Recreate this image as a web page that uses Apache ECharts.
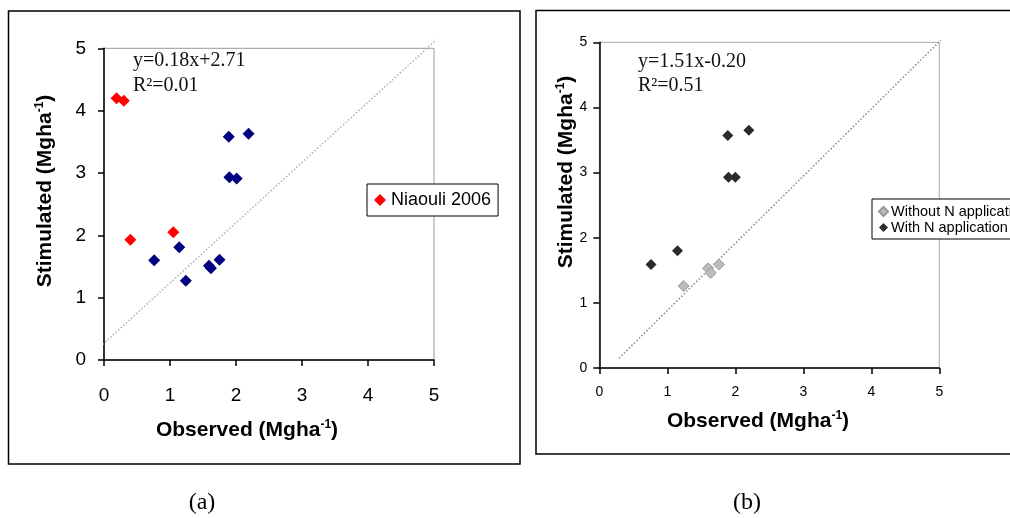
<!DOCTYPE html>
<html>
<head>
<meta charset="utf-8">
<style>
  html, body { margin: 0; padding: 0; background: #fff; }
  #chart { width: 1010px; height: 518px; }
</style>
<script src="https://cdn.jsdelivr.net/npm/echarts@6/dist/echarts.min.js"></script>
</head>
<body>
<div id="chart"></div>
<script>
// Panel (a): observed vs simulated yield, two site groups
const blueObsA = [0.76, 1.14, 1.24, 1.59, 1.62, 1.75, 1.89, 2.19, 1.90, 2.01];
const blueSimA = [1.60, 1.81, 1.27, 1.51, 1.47, 1.61, 3.58, 3.63, 2.93, 2.91];
const niaouliObs = [0.19, 0.30, 0.40, 1.05];
const niaouliSim = [4.20, 4.16, 1.93, 2.05];
const refLineA = [[-0.06, 0.21], [5.05, 5.15]];

// Panel (b): with / without nitrogen application
const withoutNObs = [1.24, 1.60, 1.64, 1.76];
const withoutNSim = [1.26, 1.53, 1.46, 1.59];
const withNObs = [0.76, 1.15, 1.89, 2.20, 1.90, 2.00];
const withNSim = [1.59, 1.80, 3.57, 3.65, 2.93, 2.93];
const refLineB = [[0.29, 0.15], [5.02, 5.03]];

const axisTicks = [0, 1, 2, 3, 4, 5];
const eqA = ['y=0.18x+2.71', 'R²=0.01'];
const eqB = ['y=1.51x-0.20', 'R²=0.51'];
const xTitle = 'Observed (Mgha{sup|-1})';
const yTitle = 'Stimulated (Mgha{sup|-1})';

const zip = (xs, ys) => xs.map((x, i) => [x, ys[i]]);

const chart = echarts.init(document.getElementById('chart'), null, { renderer: 'canvas' });

function valueAxis(gridIndex, fontSize, margin) {
  return {
    type: 'value',
    gridIndex,
    min: axisTicks[0],
    max: axisTicks[axisTicks.length - 1],
    interval: 1,
    splitLine: { show: false },
    axisLine: { show: true, onZero: false, lineStyle: { color: '#000', width: 1.5 } },
    axisTick: { show: true, inside: false, length: 6, lineStyle: { color: '#000', width: 1.5 } },
    axisLabel: { fontFamily: 'Liberation Sans', fontSize, color: '#000', margin }
  };
}

const titleRich = {
  sup: { font: 'bold 12px "Liberation Sans"', verticalAlign: 'top', padding: [0, 0, 11, 0] }
};

function axisTitle(text, x, y, rotation) {
  return {
    type: 'text',
    x, y, rotation,
    style: {
      text,
      font: 'bold 21px "Liberation Sans"',
      fill: '#000',
      align: 'center',
      verticalAlign: 'middle',
      rich: titleRich
    }
  };
}

function eqText(x, y, text) {
  return {
    type: 'text', x, y,
    style: { text, font: '20px "Liberation Serif"', fill: '#111', align: 'left', verticalAlign: 'middle' }
  };
}

function caption(x, y, text) {
  return {
    type: 'text', x, y,
    style: { text, font: '24px "Liberation Serif"', fill: '#000', align: 'center', verticalAlign: 'middle' }
  };
}

const option = {
  backgroundColor: '#fff',
  animation: false,
  grid: [
    { left: 104, top: 48.3, width: 330, height: 311.7, show: true, borderColor: '#999', borderWidth: 1, backgroundColor: 'transparent' },
    { left: 599.3, top: 42.3, width: 340, height: 325.7, show: true, borderColor: '#aaa', borderWidth: 1, backgroundColor: 'transparent' }
  ],
  xAxis: [valueAxis(0, 19, 26), valueAxis(1, 14, 17)],
  yAxis: [valueAxis(0, 19, 18), valueAxis(1, 14, 12)],
  legend: [
    {
      data: ['Niaouli 2006'],
      left: 367, top: 184,
      orient: 'horizontal',
      itemWidth: 12, itemHeight: 12,
      padding: [7, 7, 7, 7],
      borderColor: '#000', borderWidth: 1, borderRadius: 0,
      backgroundColor: '#fff',
      textStyle: { fontFamily: 'Liberation Sans', fontSize: 18, color: '#000' }
    },
    {
      data: ['Without N application', 'With N application'],
      left: 872, top: 199,
      orient: 'vertical',
      itemWidth: 9, itemHeight: 9, itemGap: 1,
      padding: [5, 30, 4, 6],
      borderColor: '#000', borderWidth: 1, borderRadius: 0,
      backgroundColor: '#fff',
      textStyle: { fontFamily: 'Liberation Sans', fontSize: 14.5, color: '#000', padding: [0, 0, 0, -2] }
    }
  ],
  series: [
    {
      name: '1:1 a', type: 'line', xAxisIndex: 0, yAxisIndex: 0,
      data: refLineA, symbol: 'none', clip: false, silent: true,
      lineStyle: { color: '#b0b0b0', width: 1.5, type: [1.5, 2] }, z: 1
    },
    {
      name: 'Sites', type: 'scatter', xAxisIndex: 0, yAxisIndex: 0,
      data: zip(blueObsA, blueSimA), symbol: 'diamond', symbolSize: 12,
      itemStyle: { color: '#000080', opacity: 1 }, z: 3
    },
    {
      name: 'Niaouli 2006', type: 'scatter', xAxisIndex: 0, yAxisIndex: 0,
      data: zip(niaouliObs, niaouliSim), symbol: 'diamond', symbolSize: 12,
      itemStyle: { color: '#ff0000', opacity: 1 }, z: 3
    },
    {
      name: '1:1 b', type: 'line', xAxisIndex: 1, yAxisIndex: 1,
      data: refLineB, symbol: 'none', clip: false, silent: true,
      lineStyle: { color: '#888', width: 1.5, type: [1.5, 2] }, z: 1
    },
    {
      name: 'Without N application', type: 'scatter', xAxisIndex: 1, yAxisIndex: 1,
      data: zip(withoutNObs, withoutNSim), symbol: 'diamond', symbolSize: 11,
      itemStyle: { color: '#bdbdbd', borderColor: '#999', borderWidth: 1, opacity: 1 }, z: 3
    },
    {
      name: 'With N application', type: 'scatter', xAxisIndex: 1, yAxisIndex: 1,
      data: zip(withNObs, withNSim), symbol: 'diamond', symbolSize: 11,
      itemStyle: { color: '#2b2b2b', opacity: 1 }, z: 3
    }
  ],
  graphic: [
    // panel frames
    { type: 'rect', shape: { x: 8.5, y: 11, width: 511.5, height: 453 }, style: { fill: 'none', stroke: '#000', lineWidth: 1.5 }, z: -1 },
    { type: 'rect', shape: { x: 536, y: 10.5, width: 500, height: 443.5 }, style: { fill: 'none', stroke: '#000', lineWidth: 1.5 }, z: -1 },
    // axis titles
    axisTitle(xTitle, 247, 430, 0),
    axisTitle(xTitle, 758, 421, 0),
    axisTitle(yTitle, 45, 191, Math.PI / 2),
    axisTitle(yTitle, 566, 172, Math.PI / 2),
    // regression annotations
    eqText(133, 61, eqA[0]),
    eqText(133, 86, eqA[1]),
    eqText(638, 62, eqB[0]),
    eqText(638, 86, eqB[1]),
    // panel captions
    caption(202, 503, '(a)'),
    caption(747, 503, '(b)')
  ]
};

chart.setOption(option);
</script>
</body>
</html>
